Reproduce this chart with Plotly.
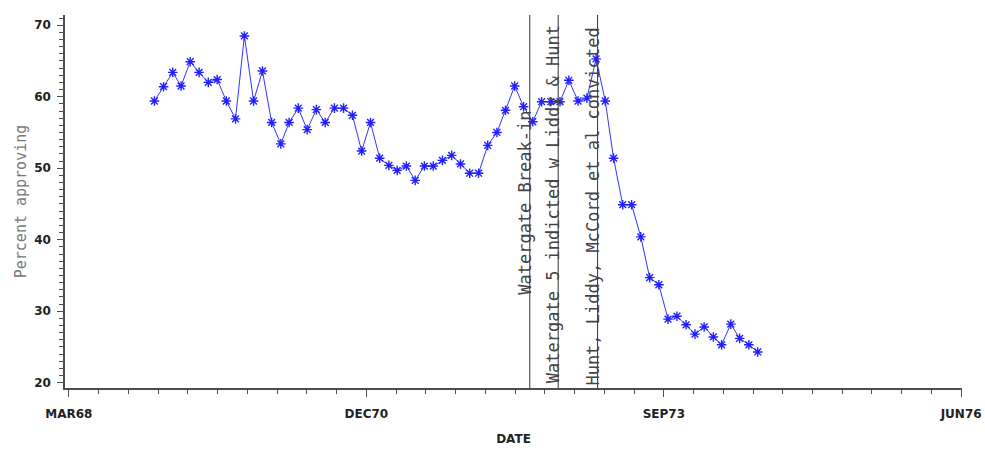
import plotly.graph_objects as go
import pandas as pd

# --- data -------------------------------------------------------------
first_month = "1968-12-01"
approval = [59.4, 61.4, 63.4, 61.5, 64.9, 63.4, 62.0, 62.4, 59.4, 56.9,
            68.5, 59.4, 63.6, 56.4, 53.4, 56.4, 58.4, 55.4, 58.2, 56.4,
            58.4, 58.4, 57.4, 52.4, 56.4, 51.4, 50.4, 49.7, 50.3, 48.3,
            50.3, 50.3, 51.1, 51.8, 50.6, 49.3, 49.3, 53.2, 55.0, 58.1,
            61.5, 58.6, 56.5, 59.3, 59.3, 59.3, 62.3, 59.4, 59.8, 65.3,
            59.4, 51.4, 44.9, 44.9, 40.4, 34.7, 33.7, 28.9, 29.3, 28.1,
            26.8, 27.8, 26.4, 25.3, 28.2, 26.2, 25.3, 24.3]
dates = pd.date_range(first_month, periods=len(approval), freq="MS") + pd.Timedelta(days=14)

event_dates = ["1972-06-05", "1972-09-09", "1973-01-20"]
event_text = ["Watergate Break-in",
              "Watergate 5 indicted w Liddy & Hunt",
              "Hunt, Liddy, McCord et al convicted"]
event_ypos = [0.244, 0.008, 0.0]

xtick_dates = ["1968-03-01", "1970-12-01", "1973-09-01", "1976-06-01"]
xtick_text = ["MAR68", "DEC70", "SEP73", "JUN76"]
ytick_vals = [20, 30, 40, 50, 60, 70]

# minor x ticks: 9 evenly spaced between each pair of major ticks
maj = pd.to_datetime(xtick_dates)
minor_x = []
for a, b in zip(maj[:-1], maj[1:]):
    for k in range(1, 10):
        minor_x.append(a + (b - a) * k / 10)

axis_col = "#4d4d4d"
tick_font = dict(family="DejaVu Sans", size=12, color="#222222", weight="bold")

fig = go.Figure()
fig.add_trace(go.Scatter(
    x=dates, y=approval, mode="lines+markers",
    line=dict(color="#3333ff", width=1),
    marker=dict(symbol="asterisk-open", size=8, color="#2020ff",
                line=dict(color="#2020ff", width=1.4)),
    showlegend=False, hoverinfo="x+y"))

for d in event_dates:
    fig.add_shape(type="line", xref="x", yref="paper", x0=d, x1=d, y0=0, y1=1,
                  line=dict(color="#333333", width=1))
for d, t, yp in zip(event_dates, event_text, event_ypos):
    fig.add_annotation(x=d, y=yp, xref="x", yref="paper", text=t,
                       textangle=-90, showarrow=False, xanchor="center",
                       yanchor="bottom", xshift=-5,
                       font=dict(family="DejaVu Sans Mono", size=17, color="#444444"))

fig.update_layout(
    width=985, height=450,
    margin=dict(l=65, r=23, t=15, b=62, autoexpand=False),
    paper_bgcolor="white", plot_bgcolor="white",
    xaxis=dict(type="date", range=["1968-02-17", "1976-06-04"], automargin=False,
               tickmode="array", tickvals=xtick_dates, ticktext=xtick_text,
               ticks="outside", ticklen=7, tickcolor=axis_col, tickwidth=1,
               showline=True, linecolor=axis_col, linewidth=1.5,
               showgrid=False, zeroline=False, tickfont=tick_font,
               ticklabelstandoff=7,
               minor=dict(tickmode="array", tickvals=minor_x, ticks="outside",
                          ticklen=4, tickcolor=axis_col, showgrid=False),
               title=dict(text="DATE", standoff=14,
                          font=dict(family="DejaVu Sans", size=12, color="#222222", weight="bold"))),
    yaxis=dict(range=[19.26, 71.43], tickmode="array", tickvals=ytick_vals, automargin=False,
               ticks="outside", ticklen=6, tickcolor=axis_col, tickwidth=1,
               showline=True, linecolor=axis_col, linewidth=1.5,
               showgrid=False, zeroline=False, tickfont=tick_font,
               ticklabelstandoff=4,
               minor=dict(dtick=1, ticks="outside", ticklen=4, tickcolor=axis_col,
                          showgrid=False),
               title=dict(text="Percent approving", standoff=4,
                          font=dict(family="DejaVu Sans Mono", size=15, color="#777777"))),
)

fig.write_html("out.html")
